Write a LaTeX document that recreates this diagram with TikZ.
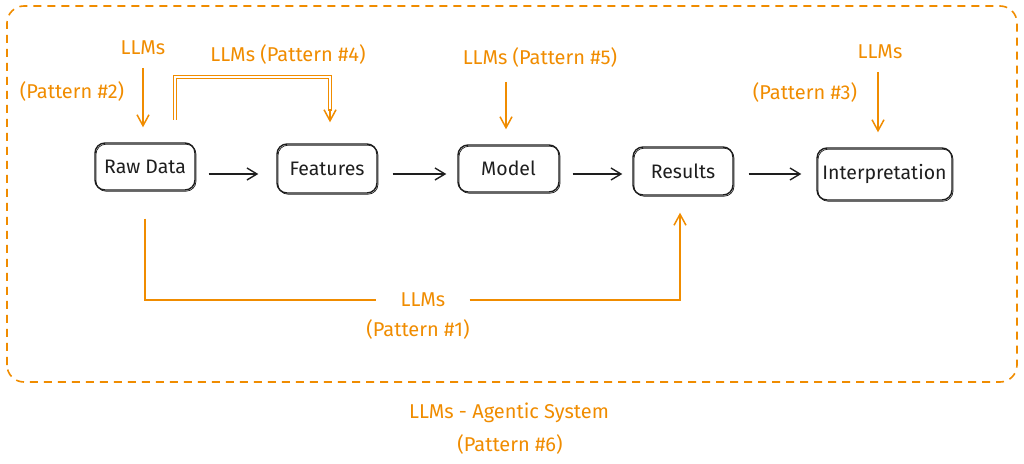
\documentclass[tikz,border=0pt]{standalone}
\usepackage{fontspec}
\setmainfont{Fira Sans}
\usetikzlibrary{arrows.meta,calc}
\definecolor{llmorange}{RGB}{240,140,0}
\definecolor{inkblack}{RGB}{30,30,30}
\begin{document}
\begin{tikzpicture}[x=1pt,y=1pt,
  stagebox/.style={draw=inkblack, line width=1.4pt, rounded corners=10pt, inner sep=0pt,
    font=\fontsize{19.5}{22}\selectfont, text=inkblack,
    preaction={draw=inkblack, line width=0.7pt, rounded corners=10pt, transform canvas={shift={(1pt,-1.2pt)}}}},
  olabel/.style={text=llmorange, font=\fontsize{20}{22}\selectfont, inner sep=1pt},
  flowarrow/.style={draw=inkblack, line width=1.4pt, -{Straight Barb[length=10pt,width=12pt]}},
  oarrow/.style={draw=llmorange, line width=1.5pt, -{Straight Barb[length=11pt,width=12pt]}},
  oline/.style={draw=llmorange, line width=1.5pt},
  odouble/.style={draw=llmorange, line width=0.9pt, double=white, double distance=2.2pt},
  border/.style={draw=llmorange, line width=1.6pt, dash pattern=on 8pt off 6pt, rounded corners=17pt}
]
\useasboundingbox (0,0) rectangle (1024,463);

% outer agentic system boundary
\draw[border] (7,81) rectangle (1017,457);

% stage boxes
\node[stagebox, minimum width=100pt, minimum height=47pt] (raw) at (145,296.5) {Raw Data};
\node[stagebox, minimum width=100pt, minimum height=49pt] (feat) at (327,294.5) {Features};
\node[stagebox, minimum width=101pt, minimum height=47pt] (model) at (508.5,294.5) {Model};
\node[stagebox, minimum width=100pt, minimum height=48pt] (res) at (683,292) {Results};
\node[stagebox, minimum width=135pt, minimum height=52pt] (interp) at (884.5,289) {Interpretation};

% main flow arrows
\draw[flowarrow] ($(raw.east)+(13,-7.5)$) -- ($(feat.west)+(-18,-5.5)$);
\draw[flowarrow] ($(feat.east)+(15,-5.5)$) -- ($(model.west)+(-11,-5.5)$);
\draw[flowarrow] ($(model.east)+(13,-5.5)$) -- ($(res.west)+(-10,-3)$);
\draw[flowarrow] ($(res.east)+(15,-3)$) -- ($(interp.west)+(-15,0)$);

% labels
\node[olabel] (l2a) at (143,415) {LLMs};
\node[olabel] (l2b) at (72,371) {(Pattern \#2)};
\node[olabel] (l4) at (288,408) {LLMs (Pattern \#4)};
\node[olabel] (l5) at (540,405) {LLMs (Pattern \#5)};
\node[olabel] (l3a) at (880,411) {LLMs};
\node[olabel] (l3b) at (805,370) {(Pattern \#3)};
\node[olabel, inner xsep=24pt] (l1a) at (423,163) {LLMs};
\node[olabel] (l1b) at (418,133) {(Pattern \#1)};
\node[olabel] (l6a) at (509,50) {LLMs - Agentic System};
\node[olabel] (l6b) at (510,19) {(Pattern \#6)};

% free ends of the LLM arrows
\coordinate (c2) at (143,395);
\coordinate (c5) at (506,381);
\coordinate (c3) at (878,391);
\coordinate (c4) at (175,343);

% Pattern #2, #5, #3
\draw[oarrow, shorten >=15pt] (c2) -- (c2 |- raw.north);
\draw[oarrow, shorten >=15pt] (c5) -- (c5 |- model.north);
\draw[oarrow, shorten >=15pt] (c3) -- (c3 |- interp.north);

% Pattern #4
\coordinate (c4top) at (175,386);
\coordinate (c4end) at ($(feat.north)+(3,0)$);
\draw[odouble] (c4) -- (c4top) -- (c4top -| c4end) -- ($(c4end)+(0,32)$);
\draw[oarrow, shorten >=21pt] ($(c4end)+(0,34)$) -- (c4end);

% Pattern #1
\draw[oline, shorten <=28pt] (raw.south) |- (l1a.west);
\draw[oarrow, shorten >=17pt] (l1a.east) -| ($(res.south)+(-3,0)$);
\end{tikzpicture}
\end{document}
